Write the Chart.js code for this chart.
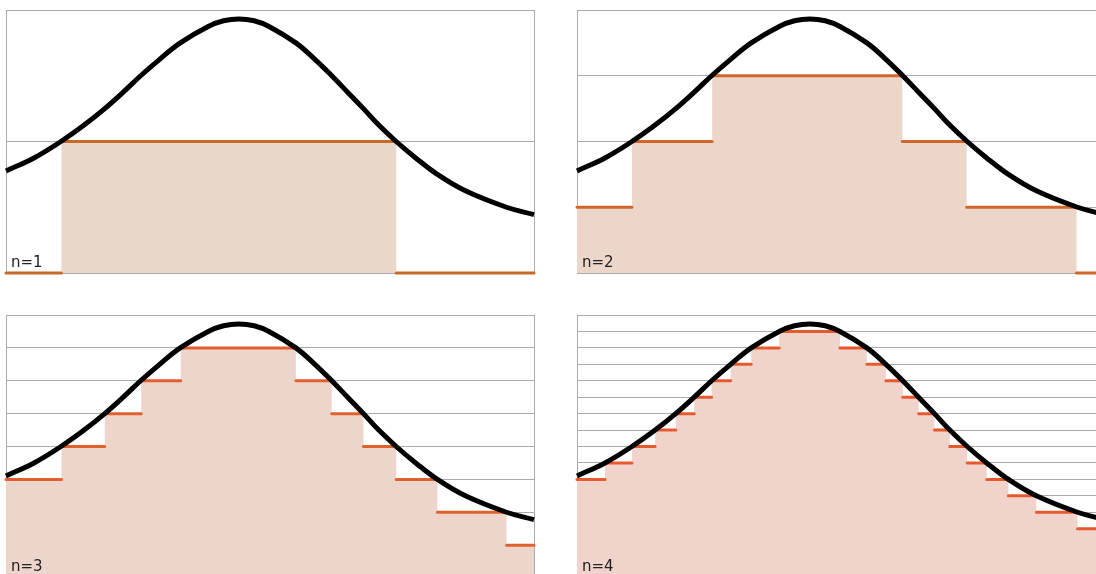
<!DOCTYPE html>
<html>
<head>
<meta charset="utf-8">
<script src="https://cdn.jsdelivr.net/npm/chart.js@4.4.0/dist/chart.umd.min.js"></script>
<style>
  html, body { margin: 0; padding: 0; background: #fff; }
  body { width: 1096px; height: 574px; overflow: hidden; position: relative; }
  canvas { position: absolute; }
  .lbl { position: absolute; font-family: "DejaVu Sans", Verdana, sans-serif; font-size: 15px; color: #222; line-height: 1; }
</style>
</head>
<body>

<script>
// curva (asse x 0..100, valore normalizzato 0..1)
var curveX = [0, 5.3, 10.4, 14.8, 18.7, 22.2, 25.5, 29.1, 33.0, 38.3, 41.2, 44.1, 47.0, 49.8, 54.9, 58.5, 61.7, 64.7, 67.7, 70.6, 73.9, 77.6, 81.7, 87.0, 94.8, 100];
var curveY = [0.388, 0.4375, 0.5, 0.5625, 0.625, 0.6875, 0.75, 0.8125, 0.875, 0.9375, 0.959, 0.966, 0.959, 0.9375, 0.875, 0.8125, 0.75, 0.6875, 0.625, 0.5625, 0.5, 0.4375, 0.375, 0.3125, 0.25, 0.222];

// gradini quantizzati: confini dei segmenti e livello di ciascun segmento
var panelNames = ['n=1', 'n=2', 'n=3', 'n=4'];
var levelCounts = [2, 4, 8, 16];

var breaks1 = [0, 10.5, 73.9, 100];
var levels1 = [0, 1, 0];

var breaks2 = [0, 10.4, 25.6, 61.6, 73.8, 94.6, 100];
var levels2 = [1, 2, 3, 2, 1, 0];

var breaks3 = [0, 10.5, 18.7, 25.6, 33.1, 54.9, 61.7, 67.7, 73.9, 81.7, 94.8, 100];
var levels3 = [3, 4, 5, 6, 7, 6, 5, 4, 3, 2, 1];

var breaks4 = [0, 5.3, 10.4, 14.8, 18.7, 22.2, 25.5, 29.1, 33.0, 38.3, 49.8, 54.9, 58.5, 61.7, 64.7, 67.7, 70.6, 73.9, 77.6, 81.7, 87.0, 94.8, 100];
var levels4 = [6, 7, 8, 9, 10, 11, 12, 13, 14, 15, 14, 13, 12, 11, 10, 9, 8, 7, 6, 5, 4, 3];

var allBreaks = [breaks1, breaks2, breaks3, breaks4];
var allLevels = [levels1, levels2, levels3, levels4];

// colori e posizioni dei pannelli
var stepColors = ['#C86A27', '#D2652A', '#E0602E', '#E65A2E'];
var fillColors = ['#E9D7C9', '#ECD6CA', '#EED5CB', '#F0D4CC'];

// area del grafico (px) per ogni pannello
var areas = [
  { left: 6,   top: 10,  right: 534,  bottom: 273.5 },
  { left: 577, top: 10,  right: 1105, bottom: 273.5 },
  { left: 6,   top: 315, right: 534,  bottom: 578 },
  { left: 577, top: 315, right: 1105, bottom: 578 }
];

function makePanel(i) {
  var a = areas[i];
  var max = levelCounts[i];
  var brk = allBreaks[i];
  var lev = allLevels[i];

  var canvas = document.createElement('canvas');
  var cLeft = a.left - 20, cTop = a.top - 20;
  var cW = (a.right - a.left) + 40, cH = (a.bottom - a.top) + 40;
  canvas.width = cW;
  canvas.height = cH;
  canvas.style.left = cLeft + 'px';
  canvas.style.top = cTop + 'px';
  document.body.appendChild(canvas);

  var curveData = curveX.map(function (x, k) {
    return { x: x, y: curveY[k] * max };
  });

  // segmenti arancioni separati (null = interruzione)
  var segData = [];
  lev.forEach(function (lv, k) {
    segData.push({ x: brk[k], y: lv });
    segData.push({ x: brk[k + 1], y: lv });
    segData.push({ x: brk[k + 1], y: null });
  });

  // area a gradini
  var fillData = lev.map(function (lv, k) {
    return { x: brk[k], y: lv };
  });
  fillData.push({ x: brk[brk.length - 1], y: lev[lev.length - 1] });

  new Chart(canvas, {
    type: 'line',
    data: {
      datasets: [
        {
          data: curveData,
          borderColor: '#000',
          borderWidth: 5,
          pointRadius: 0,
          tension: 0.4,
          fill: false,
          clip: false
        },
        {
          data: segData,
          borderColor: stepColors[i],
          borderWidth: 3,
          borderCapStyle: 'round',
          pointRadius: 0,
          spanGaps: false,
          fill: false,
          clip: false
        },
        {
          data: fillData,
          stepped: 'before',
          borderWidth: 0,
          borderColor: 'rgba(0,0,0,0)',
          backgroundColor: fillColors[i],
          pointRadius: 0,
          fill: 'origin'
        }
      ]
    },
    options: {
      responsive: false,
      animation: false,
      devicePixelRatio: 1,
      layout: { padding: { left: 20, top: 20, right: 20, bottom: 20 } },
      plugins: { legend: { display: false }, tooltip: { enabled: false } },
      scales: {
        x: {
          type: 'linear', min: 0, max: 100,
          ticks: { display: false, stepSize: 100 },
          grid: { color: '#ABABAB', lineWidth: 1, drawTicks: false },
          border: { display: false }
        },
        y: {
          min: 0, max: max,
          ticks: { display: false, stepSize: 1 },
          grid: { color: '#ABABAB', lineWidth: 1, drawTicks: false },
          border: { display: false }
        }
      }
    }
  });

  var lbl = document.createElement('div');
  lbl.className = 'lbl';
  lbl.textContent = panelNames[i];
  lbl.style.left = (a.left + 5) + 'px';
  lbl.style.top = (a.bottom - 19) + 'px';
  document.body.appendChild(lbl);
}

for (var i = 0; i < 4; i++) {
  makePanel(i);
}
</script>
</body>
</html>
